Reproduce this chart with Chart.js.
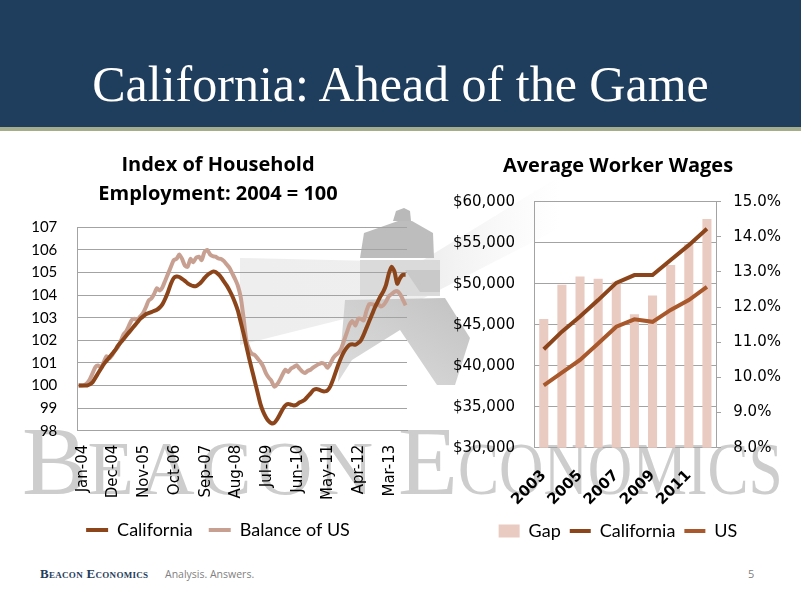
<!DOCTYPE html>
<html>
<head>
<meta charset="utf-8">
<script src="https://cdn.jsdelivr.net/npm/chart.js@4"></script>
<style>
  body { margin: 0; width: 801px; height: 600px; overflow: hidden; background: #fff; position: relative; font-family: Lato, sans-serif; }
  .header { position: absolute; left: 0; top: 0; width: 801px; height: 127px; background: #1f3d5c; }
  .stripe { position: absolute; left: 0; top: 127px; width: 801px; height: 4px; background: #a4ad8c; }
  .judul { position: absolute; left: 0; top: 54px; width: 801px; text-align: center; color: #fff;
           font-family: "Liberation Serif", serif; font-size: 50px; line-height: 60px; }
  .wm { position: absolute; color: #cdcdcd; font-family: "Liberation Serif", serif; white-space: nowrap; line-height: 1; }
  .wm span { display: inline-block; transform-origin: left bottom; }
  .lh { position: absolute; left: 0; top: 0; }
  .kotak { position: absolute; }
  .footer-brand { position: absolute; left: 40px; top: 566px; color: #1f3d5c; font-family: "Liberation Serif", serif; font-size: 13px; font-weight: bold; font-variant: small-caps; letter-spacing: 0.3px; }
  .footer-tag { position: absolute; left: 165px; top: 567px; color: #7f7f7f; font-family: "Open Sans", sans-serif; font-size: 10.5px; }
  .footer-page { position: absolute; left: 748px; top: 566px; color: #7f7f7f; font-family: "Open Sans", sans-serif; font-size: 11px; }
</style>
</head>
<body>
<div class="header"></div>
<div class="stripe"></div>
<div class="judul">California: Ahead of the Game</div>

<!-- watermark: lighthouse + logo text -->
<svg class="lh" width="801" height="600">
  <defs>
    <linearGradient id="sinar" x1="0" y1="0" x2="1" y2="0">
      <stop offset="0" stop-color="#ececec" stop-opacity="0.9"/>
      <stop offset="0.6" stop-color="#ededed" stop-opacity="0.9"/>
      <stop offset="1" stop-color="#f4f4f4" stop-opacity="0"/>
    </linearGradient>
    <linearGradient id="badan" x1="1" y1="0" x2="0" y2="1">
      <stop offset="0" stop-color="#c2c2c2"/>
      <stop offset="1" stop-color="#dedede"/>
    </linearGradient>
  </defs>
  <polygon points="240,258 420,262 560,176 560,228 420,300 240,345" fill="url(#sinar)"/>
  <polygon points="393,221 396,211 404,208 410,211 411,221" fill="#b9b9b9"/>
  <polygon points="364,233 398,221 412,221 433,233 434,258 360,258" fill="#bdbdbd"/>
  <polygon points="360,260 440,260 440,296 360,296" fill="#dadada"/>
  <polygon points="405,270 440,270 440,292 420,292" fill="#c9c9c9"/>
  <polygon points="345,300 445,298 470,338 455,385 437,385 400,330 352,360 338,382" fill="url(#badan)"/>
</svg>
<div class="wm" style="left:22px; top:412px;"><span style="font-size:98px">B</span><span style="font-size:76px; letter-spacing:6px">EACON</span></div>
<div class="wm" style="left:398px; top:412px;"><span style="font-size:98px">E</span><span style="font-size:75px; transform: scaleX(0.82)">CONOMICS</span></div>

<div class="kotak" style="left:20px; top:150px; width:400px; height:400px;"><canvas id="grafik-indeks"></canvas></div>
<div class="kotak" style="left:420px; top:150px; width:381px; height:400px;"><canvas id="grafik-upah"></canvas></div>

<div class="footer-brand">Beacon Economics</div>
<div class="footer-tag">Analysis. Answers.</div>
<div class="footer-page">5</div>

<script>
// =====================================================
// DATA — Index of Household Employment (2004 = 100), bulanan Jan-04 ..
// =====================================================
const START_YEAR = 2004;
const MONTH_NAMES = ["Jan","Feb","Mar","Apr","May","Jun","Jul","Aug","Sep","Oct","Nov","Dec"];
const TICK_EVERY = 11; // label tampil tiap 11 bulan (Jan-04, Dec-04, Nov-05, ...)

const CAL_INDEX = [
  100.0, 100.0, 100.0, 100.0, 100.05, 100.15, 100.35, 100.55, 100.75, 100.95,
  101.1, 101.25, 101.4, 101.55, 101.75, 101.9, 102.05, 102.2, 102.35, 102.5,
  102.65, 102.8, 102.95, 103.05, 103.15, 103.2, 103.25, 103.3, 103.35, 103.45,
  103.6, 103.85, 104.15, 104.5, 104.75, 104.82, 104.8, 104.72, 104.63, 104.52,
  104.45, 104.4, 104.4, 104.48, 104.6, 104.75, 104.88, 104.97, 105.04, 105.02,
  104.92, 104.78, 104.6, 104.42, 104.2, 103.95, 103.65, 103.3, 102.8, 102.3,
  101.75, 101.2, 100.7, 100.2, 99.7, 99.2, 98.85, 98.6, 98.42, 98.33,
  98.35, 98.5, 98.72, 98.95, 99.12, 99.18, 99.15, 99.12, 99.15, 99.25,
  99.3,
  99.38, 99.52, 99.65, 99.8, 99.85, 99.82, 99.76, 99.74, 99.78, 99.95,
  100.25, 100.6, 100.95, 101.25, 101.5, 101.68, 101.8, 101.82, 101.8, 101.88,
  102.0, 102.25, 102.55, 102.85, 103.15, 103.45, 103.7, 103.95, 104.15, 104.45,
  104.95, 105.25, 105.05, 104.5, 104.75, 104.9, 104.9
];

const BAL_US_INDEX = [
  100.0, 100.0, 100.02, 100.1, 100.28, 100.55, 100.82, 100.88, 100.8, 101.05,
  101.3, 101.2, 101.35, 101.55, 101.7, 101.95, 102.25, 102.4, 102.65, 102.9,
  102.95, 102.9, 103.05, 103.2, 103.45, 103.75, 103.85, 104.05, 104.3, 104.2,
  104.35, 104.65, 104.95, 105.25, 105.55, 105.6, 105.8, 105.6, 105.3, 105.25,
  105.6, 105.45, 105.65, 105.7, 105.55, 105.9, 106.0, 105.8, 105.72, 105.7,
  105.62, 105.6, 105.5, 105.35, 105.2, 104.95, 104.7, 104.4, 103.9, 103.0,
  102.0, 101.6, 101.4, 101.35, 101.2, 101.05, 100.85, 100.55, 100.35, 100.2,
  99.95, 100.05, 100.25, 100.5, 100.7, 100.6, 100.75, 100.82, 100.9, 100.75,
  100.62,
  100.55, 100.65, 100.7, 100.8, 100.88, 100.95, 101.0, 100.95, 100.78, 100.95,
  101.2, 101.35, 101.45, 101.65, 102.0, 102.35, 102.7, 102.85, 102.65, 102.95,
  102.95, 102.88, 103.3, 103.6, 103.6, 103.55, 103.62, 103.5, 103.55, 103.72,
  103.95, 104.05, 104.15, 104.18, 104.05, 103.8, 103.55
];

const INDEX_MIN = 98;
const INDEX_MAX = 107;

// =====================================================
// DATA — Average Worker Wages (tahunan)
// =====================================================
const WAGE_YEARS = ["2003","2004","2005","2006","2007","2008","2009","2010","2011","2012"];
const GAP_PCT  = [11.66, 12.64, 12.87, 12.81, 12.72, 11.80, 12.33, 13.20, 13.79, 14.51];
const CAL_WAGE = [42000, 44150, 46000, 48000, 50100, 51050, 51050, 52900, 54700, 56700];
const US_WAGE  = [37600, 39150, 40700, 42700, 44750, 45650, 45350, 46800, 48000, 49600];

const WAGE_MIN = 30000, WAGE_MAX = 60000, WAGE_STEP = 5000;
const PCT_MIN = 8, PCT_MAX = 15;

// warna
const WARNA_CAL = "#8c451b";
const WARNA_BAL = "#c8a092";
const WARNA_US  = "#a8582a";
const WARNA_GAP = "#e9cbc1";
const WARNA_GRID = "#a3a3a3";

// font judul grafik & legenda
const FONT_JUDUL = { family: "Open Sans", size: 20, weight: "bold", lineHeight: 1.44 };
const FONT_LEGENDA = { family: "Lato", size: 18 };

// label bulan: "Jan-04", "Feb-04", ...
function buatLabelBulan(n) {
  const out = [];
  for (let i = 0; i < n; i++) {
    const th = START_YEAR + Math.floor(i / 12);
    out.push(MONTH_NAMES[i % 12] + "-" + String(th % 100).padStart(2, "0"));
  }
  return out;
}

// =====================================================
// GRAFIK KIRI: indeks lapangan kerja
// =====================================================
function renderGrafikIndeks() {
  const labels = buatLabelBulan(CAL_INDEX.length);
  new Chart(document.getElementById("grafik-indeks"), {
    type: "line",
    data: {
      labels: labels,
      datasets: [
        { label: "California", data: CAL_INDEX, borderColor: WARNA_CAL, backgroundColor: WARNA_CAL,
          borderWidth: 4, pointRadius: 0, tension: 0.2, pointStyle: "line" },
        { label: "Balance of US", data: BAL_US_INDEX, borderColor: WARNA_BAL, backgroundColor: WARNA_BAL,
          borderWidth: 4, pointRadius: 0, tension: 0.2, pointStyle: "line" },
      ],
    },
    options: {
      responsive: true,
      maintainAspectRatio: false,
      animation: false,
      // padding kiri kecil saja: label sumbu y dipotong di batas skala
      layout: { padding: { top: 1, right: 13, left: 9, bottom: 1 } },
      plugins: {
        title: {
          display: true,
          text: ["Index of Household", "Employment: 2004 = 100"],
          color: "#000",
          font: FONT_JUDUL,
          padding: { top: 0, bottom: 18.7 },
        },
        legend: {
          position: "bottom",
          labels: {
            usePointStyle: true, pointStyleWidth: 22, boxHeight: 13,
            color: "#000", font: FONT_LEGENDA, padding: 16,
          },
        },
        tooltip: { enabled: false },
      },
      scales: {
        x: {
          offset: true,
          grid: { display: false, drawTicks: false },
          border: { display: true, color: WARNA_GRID },
          afterFit: (s) => { s.height = 74.3; },
          ticks: {
            autoSkip: false, minRotation: 90, maxRotation: 90, padding: 14, labelOffset: 4,
            color: "#000", font: { family: "DejaVu Sans", size: 15 },
            callback: function (val, i) { return i % TICK_EVERY === 0 ? this.getLabelForValue(val) : null; },
          },
        },
        y: {
          min: INDEX_MIN, max: INDEX_MAX,
          grid: { color: WARNA_GRID, drawTicks: false },
          border: { display: true, color: WARNA_GRID },
          afterFit: (s) => { s.width = 48.3; },
          ticks: { stepSize: 1, padding: 20, color: "#000", font: { family: "Lato", size: 15 } },
        },
      },
    },
  });
}

// =====================================================
// GRAFIK KANAN: upah rata-rata + gap
// =====================================================
function renderGrafikUpah() {
  new Chart(document.getElementById("grafik-upah"), {
    type: "bar",
    data: {
      labels: WAGE_YEARS,
      datasets: [
        { type: "bar", label: "Gap", data: GAP_PCT, yAxisID: "y1", backgroundColor: WARNA_GAP,
          barPercentage: 0.5, categoryPercentage: 1, order: 3, pointStyle: "rect" },
        { type: "line", label: "California", data: CAL_WAGE, yAxisID: "y", borderColor: WARNA_CAL,
          backgroundColor: WARNA_CAL, borderWidth: 4, pointRadius: 0, tension: 0, order: 1, pointStyle: "line" },
        { type: "line", label: "US", data: US_WAGE, yAxisID: "y", borderColor: WARNA_US,
          backgroundColor: WARNA_US, borderWidth: 4, pointRadius: 0, tension: 0, order: 2, pointStyle: "line" },
      ],
    },
    options: {
      responsive: true,
      maintainAspectRatio: false,
      animation: false,
      layout: { padding: { top: 1.6, right: 0, left: 15, bottom: 0 } },
      plugins: {
        title: {
          display: true,
          text: "Average Worker Wages",
          color: "#000",
          font: FONT_JUDUL,
          padding: { top: 0, bottom: 21.3 },
        },
        legend: {
          position: "bottom",
          labels: {
            usePointStyle: true, pointStyleWidth: 21, boxHeight: 13,
            color: "#000", font: FONT_LEGENDA, padding: 9,
            sort: (a, b) => a.datasetIndex - b.datasetIndex,
          },
        },
        tooltip: { enabled: false },
      },
      scales: {
        x: {
          offset: true,
          grid: { display: false, drawTicks: false },
          border: { display: true, color: WARNA_GRID },
          afterFit: (s) => { s.height = 65.3; },
          ticks: {
            autoSkip: false, minRotation: 45, maxRotation: 45, padding: 19,
            color: "#000", font: { family: "DejaVu Sans", size: 15, weight: "bold" },
            callback: function (val, i) { return i % 2 === 0 ? this.getLabelForValue(val) : null; },
          },
        },
        y: {
          position: "left",
          min: WAGE_MIN, max: WAGE_MAX,
          grid: { color: WARNA_GRID, drawTicks: false },
          border: { display: true, color: WARNA_GRID },
          afterFit: (s) => { s.width = 99.7; },
          ticks: {
            stepSize: WAGE_STEP, padding: 19.7, color: "#000", font: { family: "DejaVu Sans", size: 15 },
            callback: (v) => "$" + v.toLocaleString("en-US"),
          },
        },
        y1: {
          position: "right",
          min: PCT_MIN, max: PCT_MAX,
          grid: { drawOnChartArea: false, drawTicks: true, tickLength: 5, color: WARNA_GRID },
          border: { display: true, color: WARNA_GRID },
          afterFit: (s) => { s.width = 85; },
          ticks: {
            stepSize: 1, padding: 12.3, color: "#000", font: { family: "DejaVu Sans", size: 15 },
            callback: (v) => v.toFixed(1) + "%",
          },
        },
      },
    },
  });
}

renderGrafikIndeks();
renderGrafikUpah();
</script>
</body>
</html>
